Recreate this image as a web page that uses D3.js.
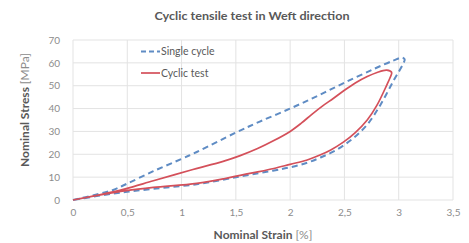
<!DOCTYPE html>
<html><head><meta charset="utf-8">
<script src="https://cdn.jsdelivr.net/npm/d3@7"></script>
<style>body{margin:0;background:#fff}svg{display:block}</style>
</head><body><svg id="c" width="469" height="243"></svg>
<script>
const title = "Cyclic tensile test in Weft direction";
const xTicks = [0, 0.5, 1, 1.5, 2, 2.5, 3, 3.5];
const yTicks = [0, 10, 20, 30, 40, 50, 60, 70];
const seriesNames = ["Single cycle", "Cyclic test"];
const singleStrain = [0, 0.2, 0.37, 0.5, 0.74, 1.0, 1.14, 1.5, 1.72, 2.0, 2.25, 2.5, 2.77, 2.95, 3.03, 3.055, 3.04, 2.95, 2.83, 2.71, 2.58, 2.43, 2.28, 2.15, 2.0, 1.84, 1.54, 1.14, 0.74, 0.37, 0];
const singleStress = [0, 2.2, 4.4, 7.2, 12.6, 18.0, 21.0, 29.5, 34.3, 40, 45.5, 51.3, 57.3, 61, 62.3, 61.5, 59.5, 52, 41.5, 33, 27, 22, 18.6, 16.2, 14.3, 12.8, 10.3, 6.9, 4.9, 2.8, 0];
const cyclicStrain = [0, 0.37, 0.49, 0.74, 1.08, 1.39, 1.54, 1.7, 1.85, 2.0, 2.1, 2.2, 2.3, 2.4, 2.5, 2.6, 2.71, 2.8, 2.89, 2.935, 2.92, 2.89, 2.8, 2.71, 2.6, 2.49, 2.37, 2.28, 2.15, 2.0, 1.85, 1.69, 1.54, 1.39, 1.14, 0.74, 0.49, 0.37, 0];
const cyclicStress = [0, 3.6, 5.0, 8.4, 13.0, 17.0, 19.4, 22.5, 26, 30, 33.5, 37.5, 41.2, 44.5, 48, 51.2, 54, 55.8, 56.8, 55.8, 53.5, 50.3, 41.5, 35, 29.5, 25.3, 21.8, 19.8, 17.4, 15.6, 13.8, 12.2, 10.8, 9.3, 7.3, 5.5, 4.1, 3.2, 0];

const W = 469, H = 243;
const m = {l: 73, r: 16, t: 40, b: 43};
const svg = d3.select("#c");
const x = d3.scaleLinear().domain([0, 3.5]).range([m.l, W - m.r]);
const y = d3.scaleLinear().domain([0, 70]).range([H - m.b, m.t]);
const font = "Lato, 'Open Sans', sans-serif";
const textCol = "#595959", tickCol = "#8c8c8c", gridCol = "#e3e3e3";

// grid
svg.append("g").selectAll("line").data(yTicks).join("line")
  .attr("x1", x(0)).attr("x2", x(3.5)).attr("y1", d => y(d)).attr("y2", d => y(d))
  .attr("stroke", gridCol).attr("stroke-width", 1);
svg.append("g").selectAll("line").data(xTicks).join("line")
  .attr("y1", y(0)).attr("y2", y(70)).attr("x1", d => x(d)).attr("x2", d => x(d))
  .attr("stroke", gridCol).attr("stroke-width", 1);

// axes (labels only)
const fmt = d => String(d).replace(".", ",");
const xa = svg.append("g").attr("transform", `translate(0,${y(0) + 6})`)
  .call(d3.axisBottom(x).tickValues(xTicks).tickFormat(fmt).tickSize(0));
const ya = svg.append("g").attr("transform", `translate(${x(0) - 10},0)`)
  .call(d3.axisLeft(y).tickValues(yTicks).tickSize(0));
[xa, ya].forEach(a => {
  a.select(".domain").remove();
  a.selectAll("text").attr("fill", tickCol).attr("font-family", font).attr("font-size", 10);
});

// lines
const line = d3.line().x(d => x(d[0])).y(d => y(d[1])).curve(d3.curveCatmullRom.alpha(0.5));
const single = singleStrain.map((s, i) => [s, singleStress[i]]);
const cyclic = cyclicStrain.map((s, i) => [s, cyclicStress[i]]);
const blue = "#5f8cc4", red = "#d4505a";
svg.append("path").datum(single).attr("d", line).attr("fill", "none")
  .attr("stroke", blue).attr("stroke-width", 2).attr("stroke-dasharray", "6,4");
svg.append("path").datum(cyclic).attr("d", line).attr("fill", "none")
  .attr("stroke", red).attr("stroke-width", 1.7);

// legend
const lg = svg.append("g");
const legendItems = [{name: seriesNames[0], col: blue, dash: "5,3", yy: 51.5},
                     {name: seriesNames[1], col: red, dash: null, yy: 73}];
legendItems.forEach(it => {
  lg.append("line").attr("x1", 141).attr("x2", 160).attr("y1", it.yy).attr("y2", it.yy)
    .attr("stroke", it.col).attr("stroke-width", it.dash ? 2 : 1.7).attr("stroke-dasharray", it.dash);
  lg.append("text").attr("x", 161).attr("y", it.yy + 3.5).text(it.name)
    .attr("fill", textCol).attr("font-family", font).attr("font-size", 10.5);
});

// title
svg.append("text").attr("x", 252).attr("y", 20).attr("text-anchor", "middle")
  .attr("fill", textCol).attr("font-family", font).attr("font-size", 12).attr("font-weight", "bold")
  .attr("textLength", 195).attr("lengthAdjust", "spacingAndGlyphs").text(title);

// x label
const xl = svg.append("text").attr("x", 263).attr("y", 239).attr("text-anchor", "middle")
  .attr("fill", textCol).attr("font-family", font).attr("font-size", 12);
xl.append("tspan").attr("font-weight", "bold").text("Nominal Strain ");
xl.append("tspan").attr("fill", "#8c8c8c").text("[%]");

// y label
const yl = svg.append("text").attr("transform", "translate(29,110) rotate(-90)").attr("text-anchor", "middle")
  .attr("fill", textCol).attr("font-family", font).attr("font-size", 12);
yl.append("tspan").attr("font-weight", "bold").text("Nominal Stress ");
yl.append("tspan").attr("fill", "#8c8c8c").text("[MPa]");
</script></body></html>
